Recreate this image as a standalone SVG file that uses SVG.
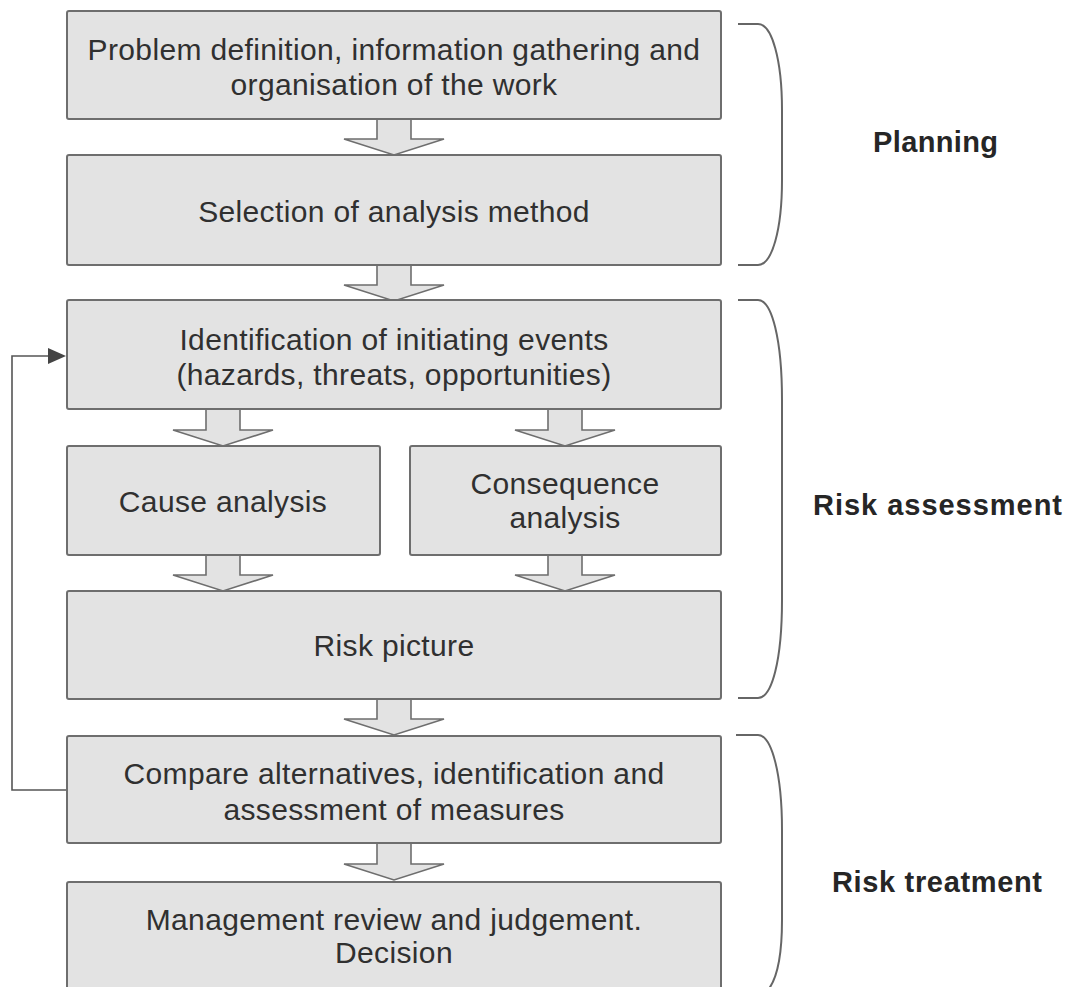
<svg xmlns="http://www.w3.org/2000/svg" width="1067" height="987" viewBox="0 0 1067 987">
<style>
.box{fill:#e3e3e3;stroke:#6e6e6e;stroke-width:2}
.t{font-family:"Liberation Sans",Arial,sans-serif;font-size:30px;letter-spacing:0.35px;fill:#303030;text-anchor:middle}
.lab{font-family:"Liberation Sans",Arial,sans-serif;font-size:29px;font-weight:bold;fill:#262626}
.blk{fill:#e3e3e3;stroke:#6e6e6e;stroke-width:1.6;stroke-linejoin:miter}
.brace{fill:none;stroke:#666;stroke-width:2}
.fb{fill:none;stroke:#555;stroke-width:1.6}
</style>
<defs>
<path id="ba" d="M-17,0 V20 H-50 L0,36 L50,20 H17 V0"/>
</defs>
<rect width="1067" height="987" fill="#fff"/>

<g id="connectors">
<use href="#ba" class="blk" transform="translate(394,119)"/>
<use href="#ba" class="blk" transform="translate(394,265)"/>
<use href="#ba" class="blk" transform="translate(223,410)"/>
<use href="#ba" class="blk" transform="translate(565,410)"/>
<use href="#ba" class="blk" transform="translate(223,555)"/>
<use href="#ba" class="blk" transform="translate(565,555)"/>
<use href="#ba" class="blk" transform="translate(394,699)"/>
<use href="#ba" class="blk" transform="translate(394,844)"/>
<path class="fb" d="M67,790 H12 V356 H50"/>
<path d="M48,348 L66,356 L48,364 Z" fill="#444"/>
</g>

<g id="n1"><rect class="box" x="67" y="11" width="654" height="108" rx="2"/>
<text class="t" x="394" y="60">Problem definition, information gathering and</text>
<text class="t" x="394" y="95">organisation of the work</text></g>

<g id="n2"><rect class="box" x="67" y="155" width="654" height="110" rx="2"/>
<text class="t" x="394" y="222">Selection of analysis method</text></g>

<g id="n3"><rect class="box" x="67" y="300" width="654" height="109" rx="2"/>
<text class="t" x="394" y="350">Identification of initiating events</text>
<text class="t" x="394" y="385">(hazards, threats, opportunities)</text></g>

<g id="n4"><rect class="box" x="67" y="446" width="313" height="109" rx="2"/>
<text class="t" x="223" y="512">Cause analysis</text></g>

<g id="n5"><rect class="box" x="410" y="446" width="311" height="109" rx="2"/>
<text class="t" x="565" y="494">Consequence</text>
<text class="t" x="565" y="528">analysis</text></g>

<g id="n6"><rect class="box" x="67" y="591" width="654" height="108" rx="2"/>
<text class="t" x="394" y="656">Risk picture</text></g>

<g id="n7"><rect class="box" x="67" y="736" width="654" height="107" rx="2"/>
<text class="t" x="394" y="784">Compare alternatives, identification and</text>
<text class="t" x="394" y="820">assessment of measures</text></g>

<g id="n8"><rect class="box" x="67" y="882" width="654" height="120" rx="2"/>
<text class="t" x="394" y="930">Management review and judgement.</text>
<text class="t" x="394" y="963">Decision</text></g>

<g id="braces">
<path class="brace" d="M738,24 H758 C772,24 782,60 782,110 V180 C782,230 772,265 758,265 H738"/>
<path class="brace" d="M738,300 H758 C772,300 782,340 782,400 V600 C782,660 772,698 758,698 H738"/>
<path class="brace" d="M736,735 H758 C772,735 782,775 782,830 V920 C782,960 776,980 768,990"/>
</g>
<g id="labels">
<text class="lab" x="873" y="152" textLength="125">Planning</text>
<text class="lab" x="813" y="515" textLength="249">Risk assessment</text>
<text class="lab" x="832" y="892" textLength="210">Risk treatment</text>
</g>
</svg>
